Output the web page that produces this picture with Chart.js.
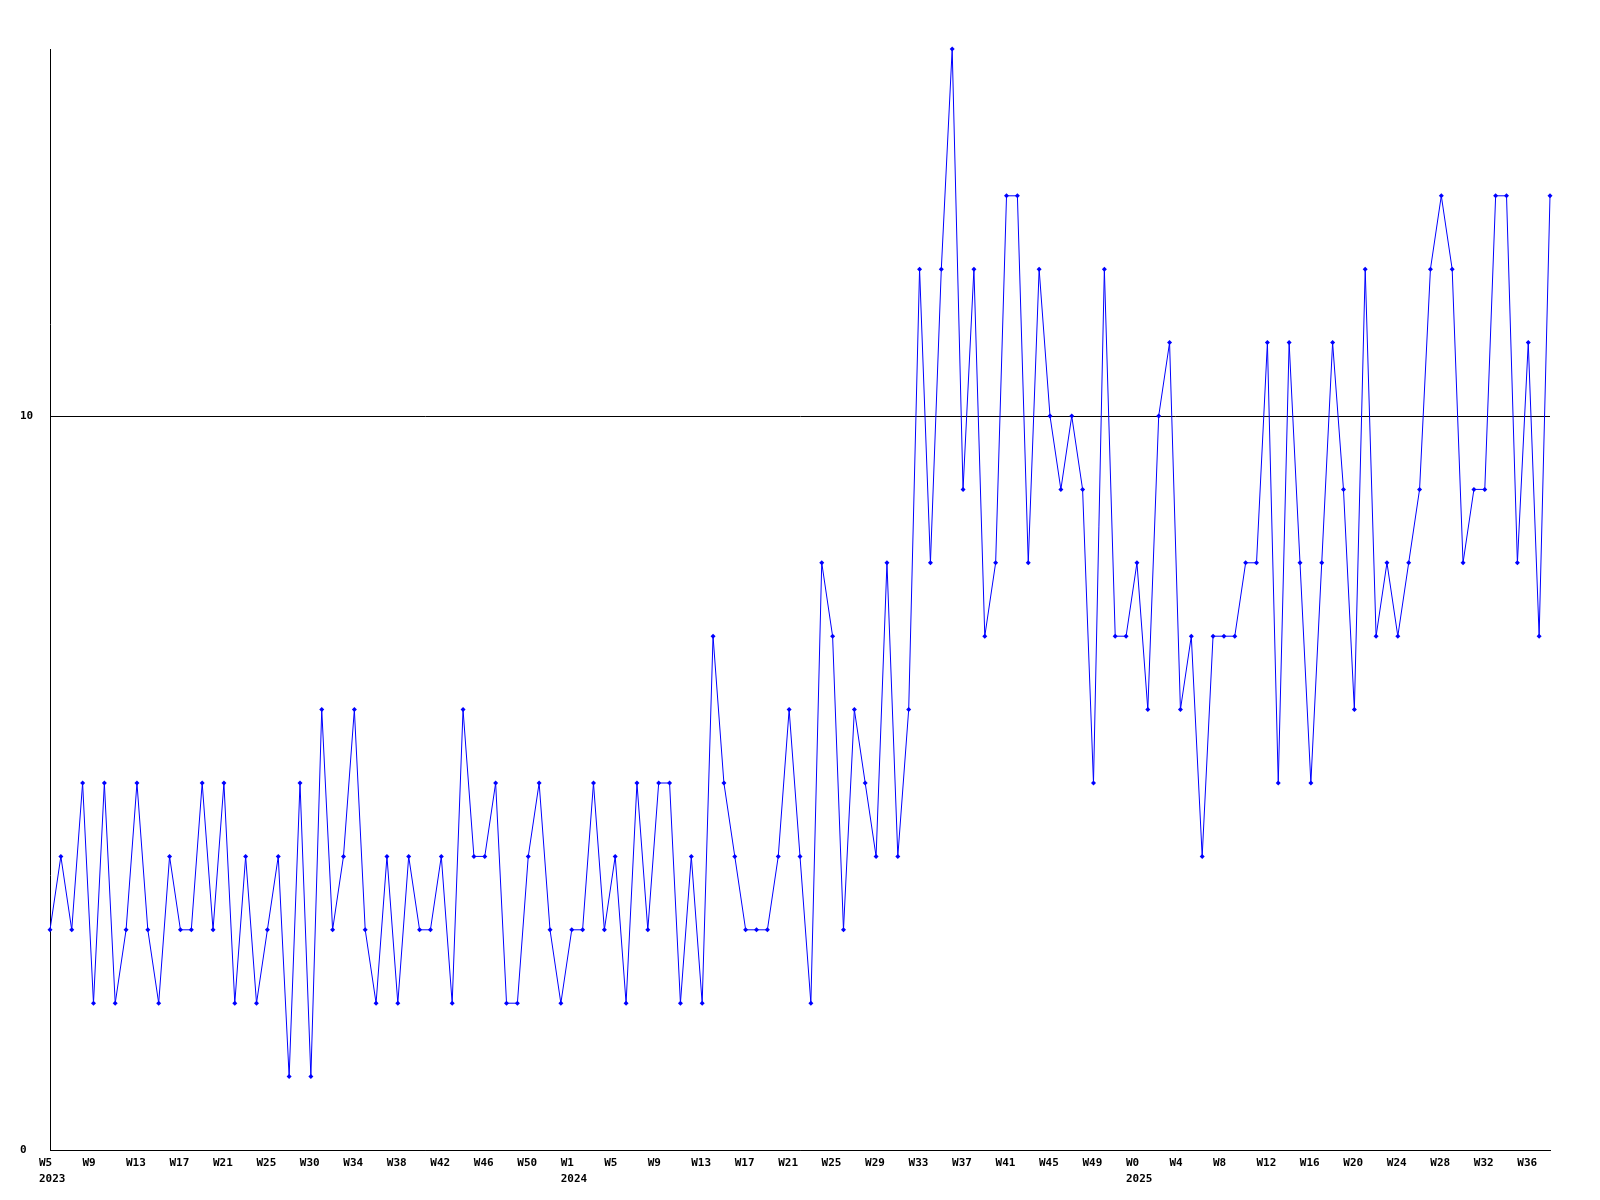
<!DOCTYPE html>
<html>
<head>
<meta charset="utf-8">
<script src="https://cdn.jsdelivr.net/npm/chart.js@4.4.1/dist/chart.umd.min.js"></script>
<style>
  html, body { margin: 0; padding: 0; background: #ffffff; }
  #wrap { width: 1600px; height: 1200px; }
</style>
</head>
<body>
<div id="wrap"><canvas id="c" width="1600" height="1200"></canvas></div>
<script>
// Weekly values (W5 2023 .. W37 2025)
const values = [
  3,4,3,5,2,5,2,3,5,3,2,4,3,3,5,3,5,2,4,2,3,4,1,5,1,
  6,3,4,6,3,2,4,2,4,3,3,4,2,6,4,4,5,2,2,4,5,3,2,3,
  3,5,3,4,2,5,3,5,5,2,4,2,7,5,4,3,3,3,4,6,4,2,
  8,7,3,6,5,4,8,4,6,12,8,12,15,9,12,7,8,13,13,8,12,10,9,
  10,9,5,12,7,7,8,6,10,11,6,7,4,7,7,7,8,8,11,5,11,8,5,
  8,11,9,6,12,7,8,7,8,9,12,13,12,8,9,9,13,13,8,11,7,13
];

// x tick labels, one every 4th week
const tickLabels = [
  'W5','W9','W13','W17','W21','W25','W30','W34','W38','W42','W46','W50',
  'W1','W5','W9','W13','W17','W21','W25','W29','W33','W37','W41','W45','W49',
  'W0','W4','W8','W12','W16','W20','W24','W28','W32','W36'
];
// year shown under the first tick of each year (tick number -> year)
const tickYears = { 0: '2023', 12: '2024', 25: '2025' };
const tickStep = 4;

// y ticks shown
const yTicks = [0, 10];
const yMin = 0;
const yMax = 15;

const categories = values.map((_, i) => i);

const font = { family: 'DejaVu Sans Mono', size: 11, weight: 'bold', lineHeight: '16px' };

new Chart(document.getElementById('c'), {
  type: 'line',
  data: {
    labels: categories,
    datasets: [{
      data: values,
      borderColor: '#0000ff',
      backgroundColor: '#0000ff',
      borderWidth: 1,
      tension: 0,
      fill: false,
      pointStyle: 'rectRot',
      pointRadius: 2.5,
      pointBorderWidth: 0,
      pointBackgroundColor: '#0000ff',
      clip: false
    }]
  },
  options: {
    responsive: false,
    animation: false,
    devicePixelRatio: 1,
    layout: { padding: { left: 20, right: 50, top: 49, bottom: 0 } },
    plugins: { legend: { display: false }, tooltip: { enabled: false } },
    scales: {
      x: {
        type: 'category',
        offset: false,
        grid: { display: false, drawTicks: false },
        border: { display: true, color: '#000000', width: 1 },
        ticks: {
          autoSkip: false,
          maxRotation: 0,
          minRotation: 0,
          align: 'start',
          labelOffset: -11,
          padding: 5,
          color: '#000000',
          font: font,
          callback: function (val, idx) {
            if (idx % tickStep !== 0) return null;
            const k = idx / tickStep;
            const t = tickLabels[k];
            if (t === undefined) return null;
            return tickYears[k] ? [t, tickYears[k]] : t;
          }
        },
        afterFit: function (scale) { scale.height = 50; }
      },
      y: {
        min: yMin,
        max: yMax,
        grid: {
          color: '#000000',
          lineWidth: 1,
          drawTicks: false
        },
        border: { display: true, color: '#000000', width: 1 },
        ticks: {
          crossAlign: 'far',
          padding: 0,
          color: '#000000',
          font: font,
          callback: function (v) { return String(v); }
        },
        afterBuildTicks: function (scale) {
          scale.ticks = yTicks.map(v => ({ value: v }));
        },
        afterFit: function (scale) { scale.width = 30; }
      }
    }
  }
});
</script>
</body>
</html>
